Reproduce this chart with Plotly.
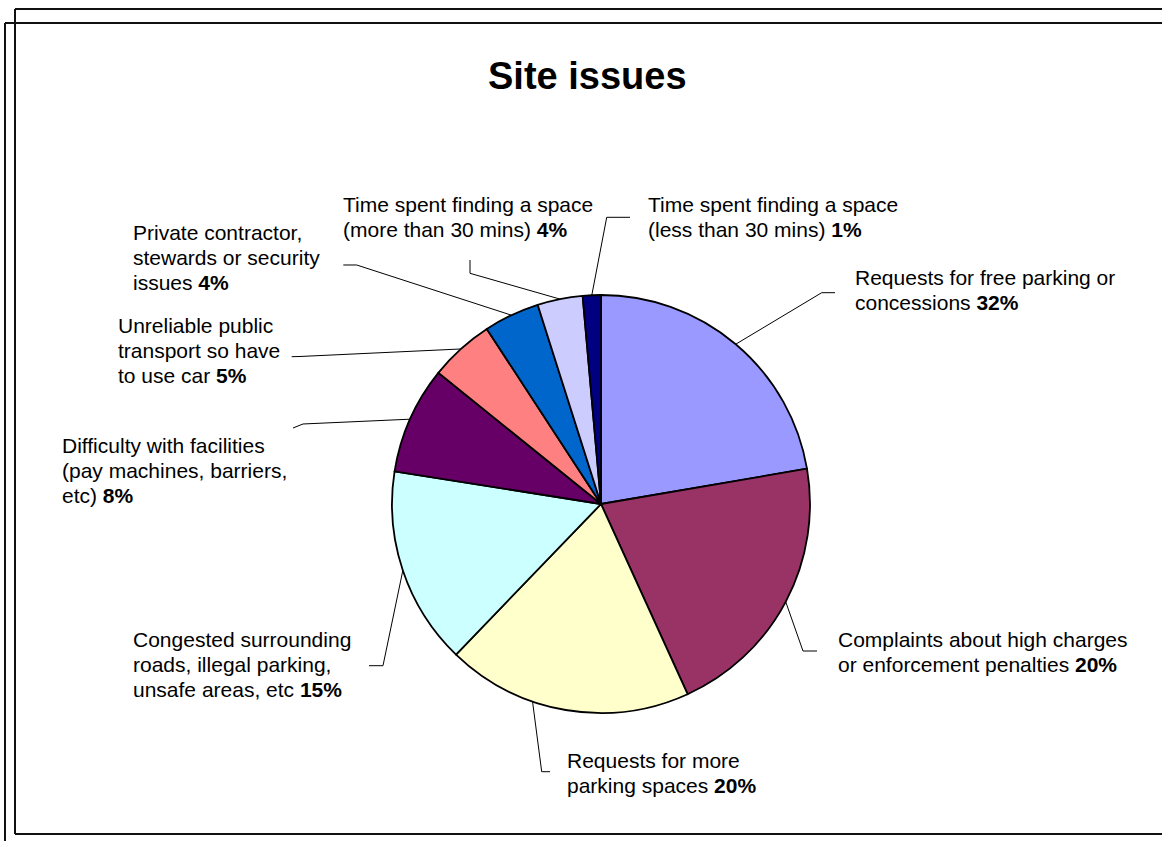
import math
import plotly.graph_objects as go

# ---------------- data ----------------
categories = [
    "Requests for free parking or concessions",
    "Complaints about high charges or enforcement penalties",
    "Requests for more parking spaces",
    "Congested surrounding roads, illegal parking, unsafe areas, etc",
    "Difficulty with facilities (pay machines, barriers, etc)",
    "Unreliable public transport so have to use car",
    "Private contractor, stewards or security issues",
    "Time spent finding a space (more than 30 mins)",
    "Time spent finding a space (less than 30 mins)",
]
values = [22.3, 20.9, 19.0, 15.3, 8.3, 5.0, 4.3, 3.5, 1.4]
label_pct = ["32%", "20%", "20%", "15%", "8%", "5%", "4%", "4%", "1%"]
label_lines = [
    ["Requests for free parking or", "concessions"],
    ["Complaints about high charges", "or enforcement penalties"],
    ["Requests for more", "parking spaces"],
    ["Congested surrounding", "roads, illegal parking,", "unsafe areas, etc"],
    ["Difficulty with facilities", "(pay machines, barriers,", "etc)"],
    ["Unreliable public", "transport so have", "to use car"],
    ["Private contractor,", "stewards or security", "issues"],
    ["Time spent finding a space", "(more than 30 mins)"],
    ["Time spent finding a space", "(less than 30 mins)"],
]
colors = ["#9999FF", "#993366", "#FFFFCC", "#CCFFFF", "#660066",
          "#FF8080", "#0066CC", "#CCCCFF", "#000080"]

# ---------------- layout (pixels) ----------------
W, H = 1162, 841
CX, CY, R = 601, 504, 209
FS = 21
LINE_GAP = 24.7

# per label: text left x, first baseline y, leader points after anchor, anchor angle offset
label_layout = [
    dict(x=855, y=285, pts=[(821.7, 292.7), (835, 292.7)], off=0),
    dict(x=838, y=647, pts=[(803, 651), (817, 651)], off=0),
    dict(x=567, y=768, pts=[(541.7, 771.7), (550, 771.7)], off=9.4),
    dict(x=133, y=647, pts=[(383, 665.7), (369, 665.7)], off=0),
    dict(x=62, y=453, pts=[(303, 424), (293, 428)], off=0),
    dict(x=118, y=333, pts=[(300, 356.5), (291.7, 356.7)], off=0),
    dict(x=133, y=240, pts=[(356.7, 265), (343.3, 265)], off=0),
    dict(x=343, y=212, pts=[(470, 273.3), (470, 260)], off=0),
    dict(x=648, y=211.7, pts=[(606.7, 217.3), (630, 217.3)], off=0),
]


def px(x):
    return x / W


def py(y):
    return 1 - y / H


fig = go.Figure(go.Pie(
    labels=categories,
    values=values,
    sort=False,
    direction="clockwise",
    rotation=0,
    textinfo="none",
    hoverinfo="label+value",
    marker=dict(colors=colors, line=dict(color="#000000", width=1.8)),
    domain=dict(x=[px(CX - R), px(CX + R)], y=[py(CY + R), py(CY - R)]),
    showlegend=False,
))

annotations = []
shapes = []

total = sum(values)
cum = 0.0
for i, v in enumerate(values):
    lay = label_layout[i]
    theta = math.radians(360.0 * (cum + v / 2.0) / total + lay["off"])
    cum += v
    ax = CX + R * math.sin(theta)
    ay = CY - R * math.cos(theta)
    pts = [(ax, ay)] + lay["pts"]
    path = "M " + " L ".join(f"{px(x):.5f},{py(y):.5f}" for x, y in pts)
    shapes.append(dict(type="path", xref="paper", yref="paper", path=path,
                       line=dict(color="#000000", width=1)))
    lines = list(label_lines[i])
    lines[-1] = lines[-1] + " <b>" + label_pct[i] + "</b>"
    for k, t in enumerate(lines):
        base = lay["y"] + k * LINE_GAP
        annotations.append(dict(
            x=px(lay["x"]), y=py(base - 0.35 * FS), xref="paper", yref="paper",
            xanchor="left", yanchor="middle", text=t, showarrow=False,
            borderpad=0, borderwidth=0,
            font=dict(family="Liberation Sans, Arial, sans-serif", size=FS, color="#000000"),
        ))

# title
annotations.append(dict(
    x=px(587), y=py(76), xref="paper", yref="paper", xanchor="center", yanchor="middle",
    text="<b>Site issues</b>", showarrow=False, borderpad=0, borderwidth=0,
    font=dict(family="Liberation Sans, Arial, sans-serif", size=38, color="#000000"),
))

# frame lines
frame = [
    ((15, 9), (1170, 9)), ((15, 9), (15, 834)), ((15, 834), (1170, 834)),
    ((5, 23), (1170, 23)), ((5, 23), (5, 850)),
]
for (x0, y0), (x1, y1) in frame:
    shapes.append(dict(type="line", xref="paper", yref="paper",
                       x0=px(x0), y0=py(y0), x1=px(x1), y1=py(y1),
                       line=dict(color="#111111", width=2)))

fig.update_layout(
    width=W, height=H,
    margin=dict(l=0, r=0, t=0, b=0),
    paper_bgcolor="#FFFFFF", plot_bgcolor="#FFFFFF",
    annotations=annotations, shapes=shapes,
)

fig.write_html("out.html")
